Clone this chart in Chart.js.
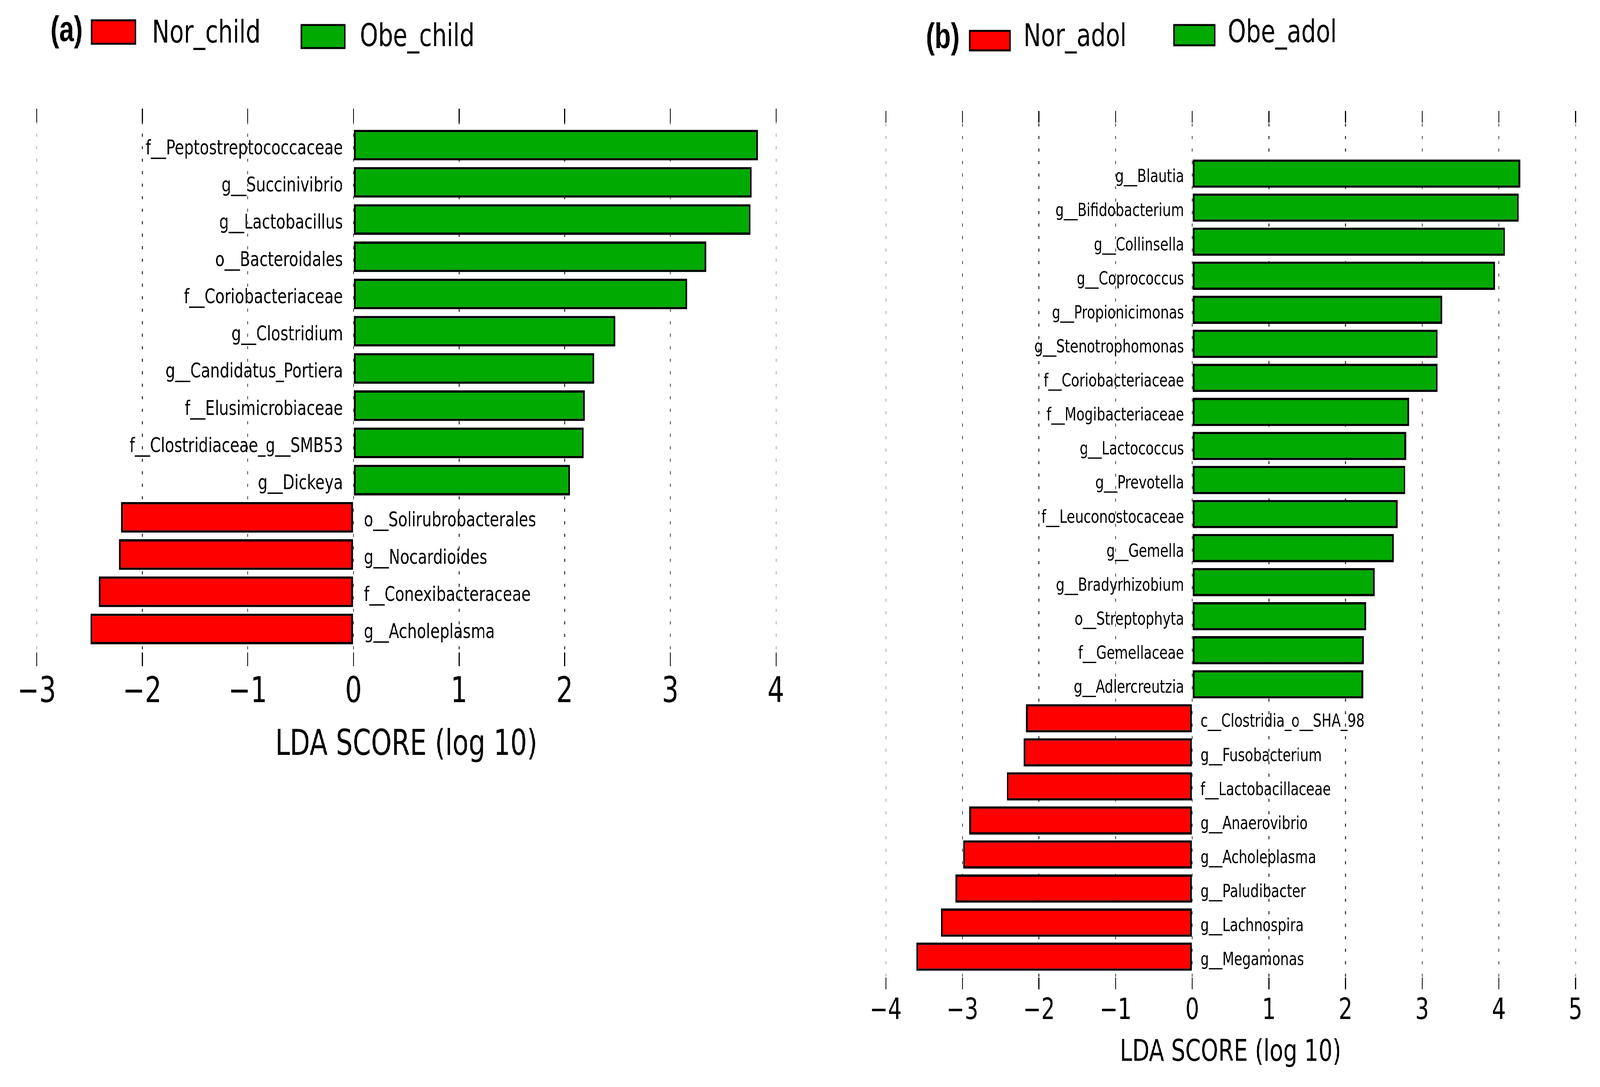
<!DOCTYPE html>
<html>
<head>
<meta charset="utf-8">
<script src="https://cdn.jsdelivr.net/npm/chart.js@4.4.1/dist/chart.umd.min.js"></script>
<style>
  html, body { margin: 0; padding: 0; background: #fff; overflow: hidden; }
  body { position: relative; }
  #page { position: absolute; left: 0; top: 0; width: 5479px; height: 2782px; transform-origin: 0 0; }
  canvas { position: absolute; top: 0; }
  #chartA { left: 0; }
  #chartB { left: 2850px; }
</style>
</head>
<body>
<div id="page">
  <canvas id="chartA" width="2850" height="2782"></canvas>
  <canvas id="chartB" width="2629" height="2782"></canvas>
</div>
<script>
const RED = '#ff0000';
const GREEN = '#00aa00';

// panel (a): children
const groupsA = ['Nor_child', 'Obe_child'];
const featuresA = [
  'f__Peptostreptococcaceae', 'g__Succinivibrio', 'g__Lactobacillus', 'o__Bacteroidales',
  'f__Coriobacteriaceae', 'g__Clostridium', 'g__Candidatus_Portiera', 'f__Elusimicrobiaceae',
  'f__Clostridiaceae_g__SMB53', 'g__Dickeya', 'o__Solirubrobacterales', 'g__Nocardioides',
  'f__Conexibacteraceae', 'g__Acholeplasma'
];
const scoresA = [3.83, 3.77, 3.76, 3.34, 3.16, 2.48, 2.28, 2.19, 2.18, 2.05, -2.20, -2.22, -2.41, -2.49];
const ticksA = [-3, -2, -1, 0, 1, 2, 3, 4];

// panel (b): adolescents
const groupsB = ['Nor_adol', 'Obe_adol'];
const featuresB = [
  'g__Blautia', 'g__Bifidobacterium', 'g__Collinsella', 'g__Coprococcus', 'g__Propionicimonas',
  'g__Stenotrophomonas', 'f__Coriobacteriaceae', 'f__Mogibacteriaceae', 'g__Lactococcus',
  'g__Prevotella', 'f__Leuconostocaceae', 'g__Gemella', 'g__Bradyrhizobium', 'o__Streptophyta',
  'f__Gemellaceae', 'g__Adlercreutzia', 'c__Clostridia_o__SHA_98', 'g__Fusobacterium',
  'f__Lactobacillaceae', 'g__Anaerovibrio', 'g__Acholeplasma', 'g__Paludibacter',
  'g__Lachnospira', 'g__Megamonas'
];
const scoresB = [4.28, 4.26, 4.08, 3.95, 3.26, 3.20, 3.20, 2.83, 2.79, 2.78, 2.68, 2.63,
  2.38, 2.27, 2.24, 2.23, -2.17, -2.20, -2.42, -2.91, -2.99, -3.09, -3.28, -3.60];
const ticksB = [-4, -3, -2, -1, 0, 1, 2, 3, 4, 5];

// layout numbers below are in picture pixels (5479x2782); the browser may clamp
// the viewport, so stretch the page onto whatever viewport we actually get
const fitX = window.innerWidth / 5479;
const fitY = window.innerHeight / 2782;
document.getElementById('page').style.transform = 'scale(' + fitX + ',' + fitY + ')';
document.body.style.width = window.innerWidth + 'px';
document.body.style.height = window.innerHeight + 'px';
const pixelRatio = (window.devicePixelRatio || 1) * Math.max(fitX, fitY);

Chart.defaults.font.family = '"DejaVu Sans", sans-serif';
Chart.defaults.color = '#000';

// feature names beside the zero line, on the side opposite the bar
const sideLabels = {
  id: 'sideLabels',
  afterDatasetsDraw(chart, args, opts) {
    const ctx = chart.ctx;
    const xs = chart.scales.x, ys = chart.scales.y;
    const x0 = xs.getPixelForValue(0);
    ctx.save();
    ctx.font = opts.size + 'px "DejaVu Sans"';
    ctx.fillStyle = '#000';
    ctx.textBaseline = 'middle';
    opts.names.forEach((name, i) => {
      const y = ys.getPixelForValue(i) + opts.dy;
      if (opts.values[i] >= 0) {
        ctx.textAlign = 'right';
        ctx.fillText(name, x0 - opts.gap, y);
      } else {
        ctx.textAlign = 'left';
        ctx.fillText(name, x0 + opts.gap, y);
      }
    });
    ctx.restore();
  }
};

// panel tag + class legend across the top
const groupLegend = {
  id: 'groupLegend',
  afterDraw(chart, args, o) {
    const ctx = chart.ctx;
    ctx.save();
    ctx.textBaseline = 'middle';
    ctx.textAlign = 'left';
    ctx.fillStyle = '#000';
    ctx.font = 'bold ' + o.tagSize + 'px "Liberation Sans Narrow", "Liberation Sans", sans-serif';
    ctx.fillText(o.tag, o.tagX, o.tagY);
    ctx.font = o.size + 'px "DejaVu Sans"';
    o.items.forEach(it => {
      const [bx, by, bw, bh] = it.box;
      ctx.fillStyle = it.color;
      ctx.fillRect(bx, by, bw, bh);
      ctx.lineWidth = 5;
      ctx.strokeStyle = '#000';
      ctx.strokeRect(bx, by, bw, bh);
      ctx.fillStyle = '#000';
      ctx.fillText(it.text, it.x, it.y);
    });
    ctx.restore();
  }
};

const minusFmt = v => (v < 0 ? '\u2212' + Math.abs(v) : String(v));

function buildChart(id, p) {
  const points = p.scores.map((v, i) => ({ x: v, y: i }));
  const setTicks = s => { s.ticks = p.ticks.map(v => ({ value: v })); };
  const last = p.ticks.length - 1;
  return new Chart(document.getElementById(id), {
    type: 'bar',
    data: {
      datasets: [{
        label: p.groups.join(' / '),
        data: points,
        backgroundColor: points.map(d => (d.x < 0 ? RED : GREEN)),
        borderColor: '#000',
        borderWidth: 6,
        borderSkipped: false,
        categoryPercentage: 1,
        barPercentage: p.barPct
      }]
    },
    options: {
      indexAxis: 'y',
      responsive: false,
      animation: false,
      devicePixelRatio: pixelRatio,
      layout: { padding: { left: p.padL, right: p.padR, top: p.padT, bottom: 0 } },
      plugins: {
        legend: { display: false },
        tooltip: { enabled: false },
        sideLabels: { names: p.features, values: p.scores, size: p.labelSize, gap: p.gap, dy: 10 },
        groupLegend: p.legend
      },
      scales: {
        y: { type: 'linear', display: false, offset: false, reverse: true, min: p.yMin, max: p.yMax },
        x: {
          type: 'linear',
          position: 'bottom',
          min: p.ticks[0],
          max: p.ticks[last],
          afterBuildTicks: setTicks,
          afterFit: s => { s.height = p.bottomH; },
          ticks: {
            font: { size: p.tickSize, lineHeight: 1 },
            color: '#000',
            padding: p.tickPad,
            maxRotation: 0,
            callback: minusFmt
          },
          grid: {
            color: c => (c.index === 0 || c.index === last ? '#aaa' : '#444'),
            lineWidth: 3,
            drawTicks: true,
            tickLength: -p.tickLen,
            tickWidth: 3,
            tickColor: '#000',
            tickBorderDash: []
          },
          border: { display: false, dash: [8, 24] },
          title: {
            display: true,
            text: 'LDA SCORE (log 10)',
            color: '#000',
            font: { size: p.titleSize, lineHeight: 1 },
            padding: { top: 0, bottom: p.titlePadB }
          }
        },
        xTop: {
          type: 'linear',
          position: 'top',
          min: p.ticks[0],
          max: p.ticks[last],
          afterBuildTicks: setTicks,
          afterFit: s => { s.height = 0; },
          ticks: { display: false },
          grid: {
            drawOnChartArea: false,
            drawTicks: true,
            tickLength: -p.tickLen,
            tickWidth: 3,
            tickColor: '#000',
            tickBorderDash: []
          },
          border: { display: false }
        }
      }
    },
    plugins: [sideLabels, groupLegend]
  });
}

buildChart('chartA', {
  groups: groupsA, features: featuresA, scores: scoresA, ticks: ticksA,
  padL: 108, padR: 193, padT: 278, bottomH: 1077,
  yMin: -0.98, yMax: 14.0, barPct: 0.84,
  tickSize: 90, tickPad: 59, tickLen: 35, titleSize: 90, titlePadB: 828,
  labelSize: 52, gap: 36,
  legend: {
    tag: '(a)', tagX: 173, tagY: 80, tagSize: 90, size: 80,
    items: [
      { color: RED, box: [314, 52, 150, 60], text: groupsA[0], x: 521, y: 88 },
      { color: GREEN, box: [1032, 64, 149, 59], text: groupsA[1], x: 1232, y: 97 }
    ]
  }
});

buildChart('chartB', {
  groups: groupsB, features: featuresB, scores: scoresB, ticks: ticksB,
  padL: 183, padR: 84, padT: 284, bottomH: 250,
  yMin: -1.84, yMax: 23.96, barPct: 0.83,
  tickSize: 74, tickPad: 50, tickLen: 30, titleSize: 76, titlePadB: 49,
  labelSize: 46, gap: 28,
  legend: {
    tag: '(b)', tagX: 321, tagY: 98, tagSize: 90, size: 80,
    items: [
      { color: RED, box: [471, 79, 138, 50], text: groupsB[0], x: 655, y: 97 },
      { color: GREEN, box: [1170, 64, 140, 52], text: groupsB[1], x: 1354, y: 87 }
    ]
  }
});
</script>
</body>
</html>
